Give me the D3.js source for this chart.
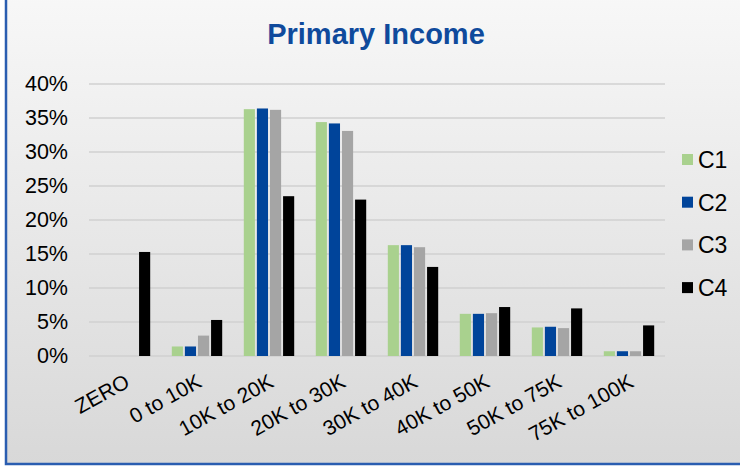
<!DOCTYPE html>
<html>
<head>
<meta charset="utf-8">
<script src="https://cdn.jsdelivr.net/npm/d3@7"></script>
<style>
  body { margin: 0; background: #fff; }
  svg { display: block; font-family: Arial, "Liberation Sans", sans-serif; }
</style>
</head>
<body>
<div id="wrapper"></div>
<script>
// data
const categories = ["ZERO", "0 to 10K", "10K to 20K", "20K to 30K", "30K to 40K", "40K to 50K", "50K to 75K", "75K to 100K"]
const seriesNames = ["C1", "C2", "C3", "C4"]
const c1 = [0, 1.4, 36.3, 34.4, 16.3, 6.2, 4.2, 0.7]
const c2 = [0, 1.4, 36.4, 34.2, 16.3, 6.2, 4.3, 0.7]
const c3 = [0, 3.0, 36.2, 33.1, 16.0, 6.3, 4.1, 0.7]
const c4 = [15.3, 5.3, 23.5, 23.0, 13.1, 7.2, 7.0, 4.5]
const yTicks = [0, 5, 10, 15, 20, 25, 30, 35, 40]
const colors = ["#a9d18e", "#00449a", "#a5a5a5", "#000000"]

const seriesValues = [c1, c2, c3, c4]
const dataset = categories.map((cat, i) => ({
  cat,
  values: seriesNames.map((s, j) => ({ key: s, value: seriesValues[j][i] }))
}))

const dimensions = {
  width: 740,
  height: 469,
  margin: { top: 84, right: 75, bottom: 113, left: 89 },
}
dimensions.boundedWidth = dimensions.width - dimensions.margin.left - dimensions.margin.right
dimensions.boundedHeight = dimensions.height - dimensions.margin.top - dimensions.margin.bottom

const wrapper = d3.select("#wrapper")
  .append("svg")
  .attr("width", dimensions.width)
  .attr("height", dimensions.height)

const defs = wrapper.append("defs")
const grad = defs.append("linearGradient")
  .attr("id", "bg")
  .attr("x1", 0).attr("y1", 0).attr("x2", 0).attr("y2", 1)
grad.append("stop").attr("offset", "0%").attr("stop-color", "#f8f8f8")
grad.append("stop").attr("offset", "100%").attr("stop-color", "#d8d8d8")

// frame (top and right edges run off the picture)
wrapper.append("rect")
  .attr("x", 6)
  .attr("y", -10)
  .attr("width", 760)
  .attr("height", 474)
  .attr("fill", "url(#bg)")
  .attr("stroke", "#2a5db0")
  .attr("stroke-width", 2.5)

wrapper.append("text")
  .attr("x", 376)
  .attr("y", 44)
  .attr("text-anchor", "middle")
  .attr("fill", "#0f4a9c")
  .style("font-size", "29px")
  .style("font-weight", "bold")
  .text("Primary Income")

const bounds = wrapper.append("g")
  .attr("transform", `translate(${dimensions.margin.left},${dimensions.margin.top})`)

// scales
const x0 = d3.scaleBand()
  .domain(categories)
  .range([0, dimensions.boundedWidth])
  .paddingInner(0.3)
  .paddingOuter(0.15)

const x1 = d3.scaleBand()
  .domain(seriesNames)
  .range([0, x0.bandwidth()])
  .paddingInner(0.15)

const yScale = d3.scaleLinear()
  .domain([0, 40])
  .range([dimensions.boundedHeight, 0])

const colorScale = d3.scaleOrdinal()
  .domain(seriesNames)
  .range(colors)

// gridlines
bounds.selectAll(".grid")
  .data(yTicks)
  .enter().append("line")
    .attr("x1", 0)
    .attr("x2", dimensions.boundedWidth)
    .attr("y1", d => yScale(d))
    .attr("y2", d => yScale(d))
    .attr("stroke", "#d0d0d0")
    .attr("stroke-width", 1.5)

// y axis labels
const yAxis = d3.axisLeft(yScale)
  .tickValues(yTicks)
  .tickFormat(d => d + "%")
  .tickSize(0)
  .tickPadding(21)
const yAxisGroup = bounds.append("g").call(yAxis)
yAxisGroup.select(".domain").remove()
yAxisGroup.selectAll("text")
  .attr("fill", "#000")
  .style("font-size", "21.5px")
  .style("font-family", "Arial, 'Liberation Sans', sans-serif")

// bars
const groups = bounds.selectAll(".group")
  .data(dataset)
  .enter().append("g")
    .attr("transform", d => `translate(${x0(d.cat)},0)`)

groups.selectAll("rect")
  .data(d => d.values)
  .enter().append("rect")
    .attr("x", d => x1(d.key))
    .attr("width", x1.bandwidth())
    .attr("y", d => yScale(d.value))
    .attr("height", d => yScale(0) - yScale(d.value))
    .attr("fill", d => colorScale(d.key))

// x labels
const xAxis = d3.axisBottom(x0).tickSize(0).tickPadding(0)
const xAxisGroup = bounds.append("g")
  .attr("transform", `translate(0,${dimensions.boundedHeight})`)
  .call(xAxis)
xAxisGroup.select(".domain").remove()
xAxisGroup.selectAll("text")
  .attr("fill", "#000")
  .style("font-size", "21px")
  .style("font-family", "Arial, 'Liberation Sans', sans-serif")
  .attr("text-anchor", "end")
  .attr("dy", 0)
  .attr("y", 0)
  .attr("transform", "translate(6,30) rotate(-29)")

// legend
const legend = wrapper.append("g")
  .attr("transform", "translate(682,160)")
const legendItems = legend.selectAll("g")
  .data(seriesNames)
  .enter().append("g")
    .attr("transform", (d, i) => `translate(0,${i * 42.7})`)
legendItems.append("rect")
  .attr("x", 0)
  .attr("y", -6)
  .attr("width", 11)
  .attr("height", 11)
  .attr("fill", d => colorScale(d))
legendItems.append("text")
  .attr("x", 16)
  .attr("y", 8)
  .style("font-size", "23px")
  .attr("fill", "#000")
  .text(d => d)
</script>
</body>
</html>
